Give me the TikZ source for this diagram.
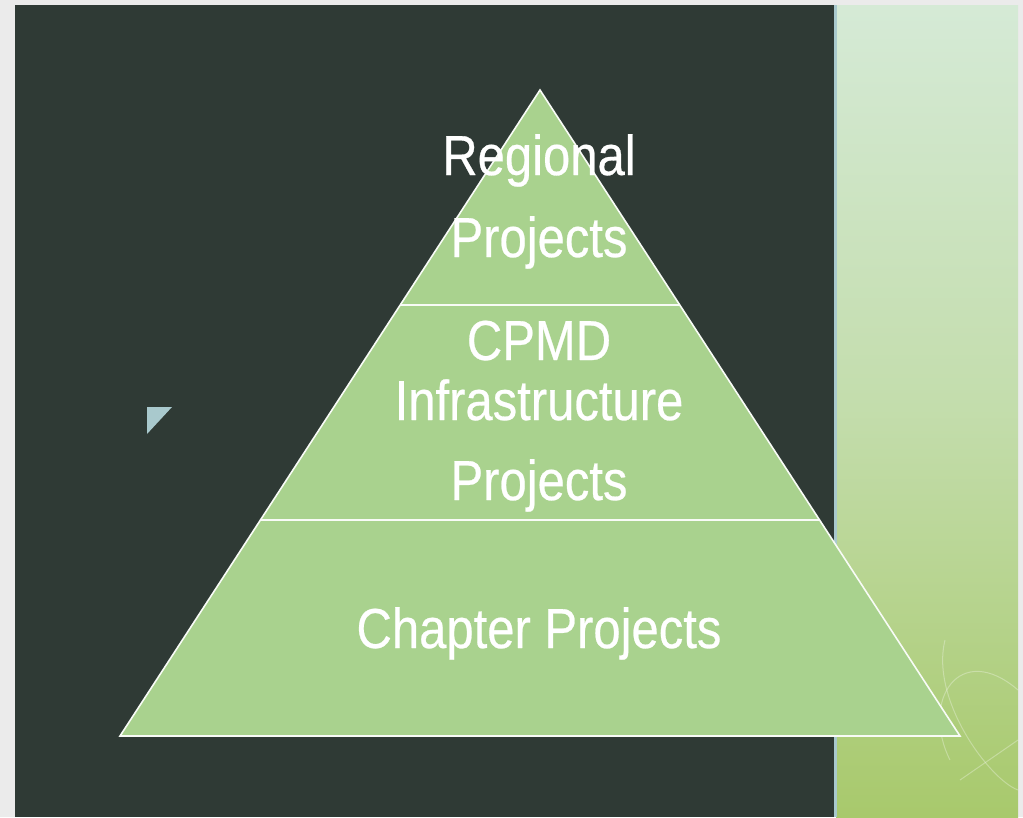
\documentclass[tikz,border=0pt]{standalone}
\usepackage{fontspec}
\usepackage{graphicx}
\usetikzlibrary{scopes}
\setmainfont{Liberation Sans}
\newfontfamily\slidefont{Liberation Sans}[FakeBold=0.5]
\definecolor{pagegray}{HTML}{EBEBEB}
\definecolor{slate}{HTML}{2F3A35}
\definecolor{leaf}{HTML}{A9D28E}
\definecolor{paletop}{HTML}{D5EAD6}
\definecolor{palebottom}{HTML}{A8C96C}
\definecolor{iceblue}{HTML}{A9C9CD}

\begin{document}
\begin{tikzpicture}[x=1pt,y=-1pt,
        tier/.style={fill=leaf,draw=white!92!leaf,line width=1.6pt,line join=miter},
        label/.style={text=white,anchor=base,inner sep=0pt,font=\slidefont\fontsize{49}{58}\selectfont}]

    \fill[pagegray] (0,0) rectangle (1023,817);
    \useasboundingbox (0,0) rectangle (1023,817);

    {[draw=none]
        \fill[slate] (15,5) rectangle (834,817);
        \shade[top color=paletop,bottom color=palebottom,middle color=paletop!60!palebottom] (836,5) rectangle (1018,817);
        \fill[iceblue] (834,5) rectangle (837,817);
    }

    {[draw=white,draw opacity=0.3,line width=1pt]
        \draw (1018,690) .. controls (960,640) and (920,700) .. (950,760);
        \draw (945,640) .. controls (930,700) and (990,780) .. (1018,790);
        \draw (960,780) -- (1018,740);
    }

    \fill[iceblue] (147,407) -- (172,407) -- (147,434) -- cycle;

    \draw[tier] (120,736) -- (960,736) -- (540,90) -- cycle;
    \draw[white!92!leaf,line width=1.6pt] (400,305) -- (680,305);
    \draw[white!92!leaf,line width=1.6pt] (260,520) -- (820,520);

    \node[label] (regional) at (539,175) {\scalebox{1}[1.15]{Regional}};
    \node[label] (regionalprj) at (539,257) {\scalebox{1}[1.15]{Projects}};
    \node[label] (cpmd) at (539,360) {\scalebox{1}[1.15]{CPMD}};
    \node[label] (infra) at (539,420) {\scalebox{1}[1.15]{Infrastructure}};
    \node[label] (infraprj) at (539,500) {\scalebox{1}[1.15]{Projects}};
    \node[label] (chapter) at (539,648) {\scalebox{1}[1.15]{Chapter Projects}};
\end{tikzpicture}
\end{document}
